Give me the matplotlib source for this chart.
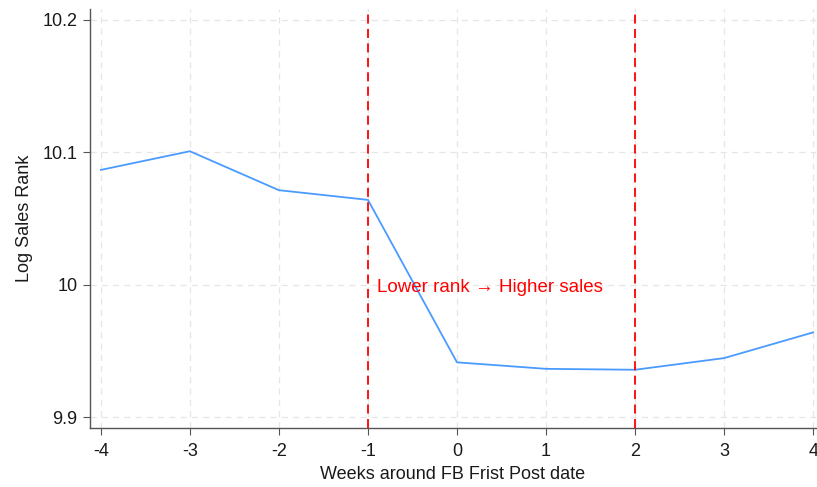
import numpy as np
import matplotlib.pyplot as plt

plt.rcParams['font.family'] = ['Liberation Sans', 'DejaVu Sans']
plt.rcParams['axes.unicode_minus'] = False

# weeks relative to first FB post and mean log sales rank
weeks = [-4, -3, -2, -1, 0, 1, 2, 3, 4]
log_rank = [10.0867, 10.1008, 10.0714, 10.0641, 9.9415, 9.9366, 9.9359, 9.9447, 9.9641]
xticks = [-4, -3, -2, -1, 0, 1, 2, 3, 4]
yticks = [9.9, 10.0, 10.1, 10.2]
ytick_labels = ['9.9', '10', '10.1', '10.2']
vlines = [-1, 2]

fig = plt.figure(figsize=(8.17, 4.87), dpi=100)
ax = fig.add_axes([0.110, 0.121, 0.889, 0.861])

ax.plot(weeks, log_rank, color='#4a9bff', linewidth=1.3, zorder=3)
for v in vlines:
    ax.axvline(v, color='red', linestyle=(0, (5, 3)), linewidth=1.3, zorder=4)

ax.text(-0.9, 9.998, 'Lower rank \u2192 Higher sales', color='red', fontsize=13.5,
        va='center', ha='left')

ax.set_xlim(-4.123, 4.034)
ax.set_ylim(9.8919, 10.2083)
ax.set_xticks(xticks)
ax.set_yticks(yticks)
ax.set_yticklabels(ytick_labels)
ax.grid(True, linestyle=(0, (5, 4)), color='#e6e6e6', linewidth=0.9)
ax.set_axisbelow(True)

for s in ['top', 'right']:
    ax.spines[s].set_visible(False)
for s in ['left', 'bottom']:
    ax.spines[s].set_color('#555555')
    ax.spines[s].set_linewidth(1.0)
ax.tick_params(direction='out', length=5, color='#555555', labelsize=13, labelcolor='#1a1a1a')
ax.tick_params(axis='x', pad=6)
ax.tick_params(axis='y', pad=4)

ax.set_xlabel('Weeks around FB Frist Post date', fontsize=13, color='#1a1a1a', labelpad=4)
ax.set_ylabel('Log Sales Rank', fontsize=13, color='#1a1a1a', labelpad=7)

fig.savefig('out.png', dpi=100)
